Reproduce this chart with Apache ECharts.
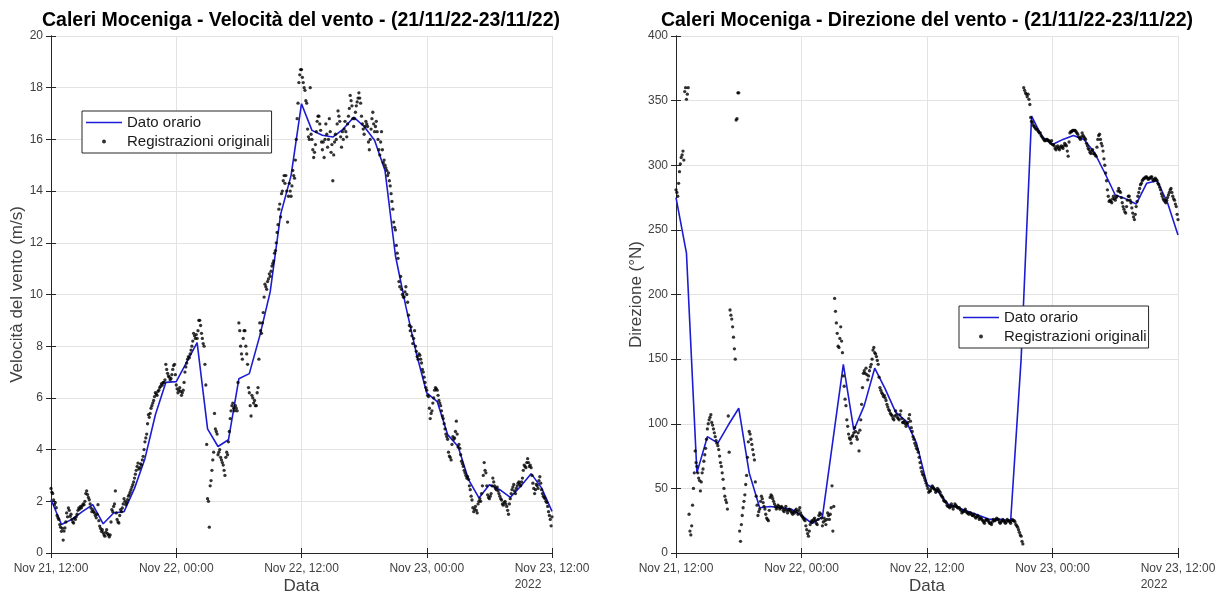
<!DOCTYPE html>
<html>
<head>
<meta charset="utf-8">
<title>Caleri Moceniga - vento</title>
<script src="https://cdn.jsdelivr.net/npm/echarts@6/dist/echarts.min.js"></script>
<style>
  html, body { margin: 0; padding: 0; background: #ffffff; overflow: hidden; }
  #chart { width: 1218px; height: 592px; }
</style>
</head>
<body>
<div id="chart"></div>
<script>
// Time axis: hours from Nov 21 2022, 12:00 to Nov 23 2022, 12:00
const xTickLabels = ['Nov 21, 12:00', 'Nov 22, 00:00', 'Nov 22, 12:00', 'Nov 23, 00:00', 'Nov 23, 12:00'];
const yearLabel = '2022';
const hoursSpan = 48;
const samplesPerHour = 12; // original records every 5 minutes

const titleSpeed = 'Caleri Moceniga - Velocità del vento - (21/11/22-23/11/22)';
const titleDir = 'Caleri Moceniga - Direzione del vento - (21/11/22-23/11/22)';
const nameHourly = 'Dato orario';
const nameRaw = 'Registrazioni originali';

// Hourly wind speed (m/s), one value per hour
const speedHourly = [2.07, 1.1, 1.3, 1.6, 1.87, 1.13, 1.55, 1.6, 2.5, 3.65, 5.35, 6.6, 6.63, 7.38, 8.14, 4.8,
  4.12, 4.38, 6.74, 6.94, 8.4, 10.1, 13.1, 14.6, 17.38, 16.35, 16.16, 16.09, 16.4, 16.86, 16.5, 15.97,
  14.8, 11.5, 9.53, 7.73, 6.19, 5.86, 4.58, 4.12, 2.84, 2.13, 2.64, 2.45, 2.15, 2.58, 3.07, 2.52, 1.61];

// 5-minute wind speed records (m/s), one row per hour
const speedRaw = [
  2.5, 2.35, 2.3, 2.05, 1.87, 1.95, 1.75, 1.45, 1.36, 1.3, 1.1, 1.0,
  0.84, 0.95, 0.5, 0.85, 0.97, 1.2, 1.55, 1.4, 1.74, 1.65, 1.42, 1.5,
  1.3, 1.2, 1.16, 1.35, 1.3, 1.4, 1.5, 1.65, 1.74, 1.7, 1.8, 1.75,
  1.83, 1.9, 1.87, 2.0, 2.3, 2.4, 2.26, 2.15, 2.06, 1.9, 1.74, 1.6,
  1.68, 1.6, 1.55, 1.45, 1.36, 1.5, 1.87, 1.25, 1.04, 0.95, 0.84, 0.9,
  0.78, 0.7, 0.65, 0.8, 0.9, 0.75, 0.7, 0.62, 0.7, 1.2, 1.68, 1.6,
  1.8, 1.9, 2.4, 1.55, 1.3, 1.2, 1.16, 1.45, 1.68, 1.6, 1.74, 1.9,
  2.1, 2.0, 1.87, 1.95, 2.06, 2.2, 2.26, 2.35, 2.45, 2.55, 2.64, 2.75,
  2.9, 3.05, 3.2, 3.35, 3.48, 3.25, 3.3, 3.45, 3.4, 3.6, 3.74, 4.0,
  4.3, 4.45, 4.6, 5.0, 5.35, 5.25, 5.4, 5.6, 5.7, 5.8, 5.9, 6.05,
  6.2, 6.15, 6.1, 6.25, 6.3, 6.4, 6.45, 6.55, 6.5, 6.6, 6.6, 6.7,
  7.3, 7.1, 6.95, 6.85, 6.8, 6.7, 6.75, 6.9, 7.1, 7.25, 7.3, 6.9,
  6.5, 6.35, 6.2, 6.3, 6.4, 6.25, 6.1, 6.2, 6.3, 6.6, 7.0, 7.2,
  7.35, 7.5, 7.6, 7.55, 7.7, 7.85, 8.0, 8.2, 8.5, 8.4, 8.3, 8.45,
  8.3, 8.6, 9.0, 9.0, 8.8, 8.5, 8.3, 8.1, 8.0, 7.3, 6.5, 4.2,
  2.1, 2.0, 1.0, 2.6, 2.8, 3.2, 3.6, 3.9, 5.4, 4.8, 4.7, 4.6,
  3.8, 3.9, 4.0, 3.7, 3.6, 3.5, 3.4, 3.2, 3.0, 3.7, 3.9, 3.8,
  4.3, 4.7, 5.2, 5.5, 5.7, 5.8, 5.6, 5.5, 5.7, 5.6, 5.5, 6.6,
  8.9, 8.6, 8.0, 7.7, 7.5, 8.3, 8.6, 8.6, 8.0, 7.7, 7.3, 6.4,
  6.2, 5.7, 5.3, 6.1, 6.0, 5.8, 5.9, 5.7, 5.7, 6.2, 6.4, 7.5,
  8.9, 8.6, 8.5, 8.9, 9.3, 9.9, 10.4, 10.3, 10.2, 10.5, 10.6, 10.8,
  10.7, 10.9, 11.1, 11.2, 11.3, 11.6, 11.7, 12.0, 12.4, 12.7, 13.3, 13.5,
  13.0, 13.9, 14.0, 14.4, 14.6, 14.3, 14.6, 14.0, 12.8, 13.8, 14.3, 14.0,
  13.8, 14.2, 14.8, 14.6, 14.5, 15.2, 16.0, 16.8, 17.4, 18.2, 18.5, 18.7,
  18.7, 18.4, 18.2, 18.0, 17.9, 17.5, 17.4, 16.4, 16.1, 16.0, 18.0, 16.2,
  16.0, 15.6, 15.3, 15.5, 15.8, 16.3, 16.7, 16.9, 16.9, 16.6, 16.35, 15.9,
  15.6, 15.9, 15.3, 16.0, 16.6, 16.2, 15.7, 16.0, 16.8, 16.3, 15.5, 15.8,
  14.4, 15.4, 15.9, 16.2, 16.0, 16.6, 17.1, 16.9, 16.7, 16.1, 15.7, 16.3,
  16.0, 16.4, 16.7, 16.3, 16.1, 16.6, 16.9, 17.2, 17.7, 17.5, 17.3, 16.8,
  16.5, 16.8, 17.05, 17.3, 17.45, 17.6, 17.8, 17.6, 17.4, 16.9, 16.6, 16.4,
  16.2, 16.5, 16.7, 16.6, 16.5, 15.9, 15.6, 16.0, 16.4, 16.8, 17.05, 16.6,
  16.3, 16.5, 16.7, 16.3, 16.0, 15.6, 15.4, 15.9, 16.3, 15.6, 15.1, 15.2,
  15.0, 14.9, 14.8, 14.6, 14.7, 14.4, 14.2, 13.9, 13.6, 13.3, 12.8, 12.6,
  12.5, 11.9, 11.6, 11.4, 10.5, 10.3, 10.7, 10.2, 10.0, 9.9, 9.9, 10.1,
  10.3, 10.0, 9.7, 9.2, 8.8, 8.6, 8.75, 8.4, 8.1, 8.3, 8.6, 8.0,
  7.8, 7.6, 7.5, 7.7, 7.65, 7.5, 7.35, 7.1, 7.0, 6.8, 6.6, 6.4,
  6.3, 6.1, 6.05, 5.6, 5.2, 5.4, 5.5, 5.8, 6.0, 6.3, 6.4, 6.35,
  6.3, 6.1, 5.9, 5.8, 5.7, 5.5, 5.3, 5.2, 5.0, 4.8, 4.6, 4.5,
  4.4, 3.9, 3.75, 3.7, 3.6, 4.2, 4.5, 4.4, 4.45, 4.7, 5.1, 4.6,
  4.1, 4.2, 4.05, 3.8, 3.55, 3.45, 3.35, 3.2, 3.1, 3.0, 2.9, 2.95,
  2.85, 2.6, 2.45, 2.2, 2.05, 1.75, 1.6, 1.7, 1.8, 1.65, 1.55, 1.9,
  2.0, 2.1, 2.0, 2.3, 2.6, 3.0, 3.5, 3.2, 3.1, 2.6, 2.25, 2.15,
  2.1, 2.2, 2.3, 2.6, 2.9, 2.75, 2.6, 2.5, 2.45, 2.55, 2.4, 2.3,
  2.2, 2.1, 2.05, 1.9, 1.85, 1.95, 2.0, 1.9, 1.8, 1.65, 1.5, 1.9,
  2.1, 2.3, 2.45, 2.55, 2.65, 2.4, 2.3, 2.5, 2.6, 2.7, 2.75, 2.65,
  2.6, 2.75, 2.9, 3.2, 3.4, 3.35, 3.3, 3.5, 3.65, 3.5, 3.35, 3.4,
  3.3, 3.0, 2.7, 2.5, 2.3, 2.45, 2.65, 2.6, 2.5, 2.8, 2.95, 2.7,
  2.45, 2.3, 2.2, 2.15, 2.1, 2.0, 1.95, 1.8, 1.6, 1.45, 1.3, 1.05,
  1.4
];

// Hourly wind direction (degrees from North)
const dirHourly = [275, 232, 62, 90, 85, 99, 112, 62, 35, 36, 35, 34, 29, 23, 28, 87, 146, 95, 114, 143,
  127, 109, 102, 85, 53, 48, 38, 35, 32, 29, 26, 26, 25, 150, 338, 322, 316, 320, 323, 320, 310, 294,
  277, 274, 270, 286, 288, 271, 246];

// 5-minute wind direction records (degrees from North), one row per hour
const dirRaw = [
  281, 279, 276, 286, 295, 301, 306, 308, 311, 304, 357, 360,
  351, 355, 360, 30, 17, 14, 21, 37, 50, 62, 79, 70,
  67, 62, 58, 56, 48, 55, 62, 65, 71, 76, 81, 88,
  96, 100, 103, 105, 107, 101, 99, 96, 93, 90, 87, 85,
  83, 80, 75, 70, 67, 62, 57, 50, 44, 41, 39, 34,
  106, 78, 188, 184, 181, 175, 167, 158, 150, 335, 336, 356,
  356, 17, 9, 22, 29, 35, 40, 45, 53, 60, 74, 86,
  94, 92, 88, 84, 80, 76, 72, 55, 44, 37, 29, 32,
  34, 40, 44, 42, 39, 36, 34, 30, 27, 26, 25, 33,
  43, 45, 44, 42, 40, 38, 36, 34, 35, 37, 36, 34,
  35, 36, 35, 33, 32, 34, 36, 33, 31, 33, 34, 33,
  32, 31, 30, 32, 31, 33, 34, 32, 30, 33, 35, 31,
  29, 28, 27, 26, 25, 21, 18, 15, 13, 17, 22, 24,
  25, 24, 26, 27, 25, 23, 22, 26, 29, 31, 30, 27,
  21, 24, 27, 25, 22, 26, 31, 29, 26, 30, 35, 52,
  17, 36, 197, 187, 178, 170, 160, 159, 166, 175, 164, 155,
  137, 129, 119, 114, 103, 98, 92, 89, 88, 85, 90, 91,
  93, 97, 94, 90, 88, 93, 79, 95, 103, 115, 128, 139,
  141, 139, 143, 138, 134, 137, 141, 144, 146, 150, 157, 159,
  155, 154, 152, 149, 146, 136, 128, 126, 124, 123, 121, 122,
  120, 118, 115, 113, 111, 110, 108, 107, 106, 104, 103, 106,
  110, 107, 105, 104, 103, 107, 110, 104, 101, 101, 102, 100,
  98, 100, 101, 104, 107, 102, 97, 94, 90, 88, 85, 83,
  81, 80, 78, 74, 70, 66, 63, 61, 60, 58, 56, 54,
  52, 50, 47, 48, 48, 50, 52, 51, 50, 49, 47, 48,
  50, 49, 48, 47, 45, 44, 43, 41, 40, 40, 39, 37,
  36, 36, 35, 36, 38, 36, 34, 36, 38, 37, 36, 35,
  35, 35, 34, 33, 31, 32, 32, 33, 34, 32, 31, 31,
  30, 31, 31, 30, 29, 29, 30, 28, 27, 28, 29, 28,
  26, 27, 27, 26, 25, 24, 23, 25, 26, 26, 25, 24,
  23, 23, 22, 24, 26, 25, 25, 26, 27, 26, 26, 24,
  23, 24, 25, 26, 25, 24, 23, 24, 26, 25, 25, 24,
  23, 25, 26, 25, 25, 24, 22, 21, 20, 18, 16, 14,
  13, 9, 7, 360, 358, 356, 355, 353, 355, 351, 347, 337,
  334, 333, 331, 330, 329, 328, 328, 327, 326, 325, 325, 323,
  322, 321, 320, 319, 319, 320, 320, 319, 319, 318, 317, 319,
  316, 316, 315, 313, 312, 314, 315, 313, 312, 314, 315, 314,
  313, 315, 317, 316, 315, 311, 307, 318, 325, 326, 326, 327,
  327, 327, 327, 326, 325, 324, 322, 321, 320, 322, 325, 323,
  322, 321, 320, 317, 315, 313, 312, 310, 309, 311, 312, 309,
  309, 308, 307, 314, 320, 323, 324, 320, 317, 315, 311, 305,
  300, 294, 288, 281, 276, 272, 273, 272, 271, 274, 276, 274,
  273, 275, 276, 280, 282, 280, 279, 275, 271, 268, 266, 264,
  263, 268, 273, 276, 276, 273, 271, 267, 263, 260, 258, 262,
  268, 272, 276, 279, 282, 285, 286, 288, 289, 290, 290, 291,
  291, 290, 289, 290, 290, 291, 291, 289, 288, 289, 290, 289,
  288, 286, 285, 283, 281, 278, 276, 274, 273, 272, 271, 273,
  275, 277, 279, 281, 282, 279, 276, 274, 273, 270, 268, 262,
  258
];

const FONT = '"Liberation Sans", Arial, Helvetica, sans-serif';
const AXIS_COLOR = '#262626';
const LABEL_COLOR = '#404040';
const GRID_COLOR = '#e3e3e3';
const LINE_COLOR = '#1c1cd4';

const hourlyPoints = arr => arr.map((v, h) => [h, v]);
const rawPoints = arr => arr.map((v, i) => [i / samplesPerHour, v]);

function xLabel(v) {
  const i = Math.round(v / 12);
  if (i === xTickLabels.length - 1) return '{t|' + xTickLabels[i] + '}\n{y|' + yearLabel + '}';
  return '{t|' + xTickLabels[i] + '}';
}

function xAxes(gridIndex) {
  const base = { gridIndex, type: 'value', min: 0, max: hoursSpan, interval: 12 };
  return [
    Object.assign({}, base, {
      position: 'bottom',
      name: 'Data', nameLocation: 'middle', nameGap: 25, nameMoveOverlap: false,
      nameTextStyle: { fontFamily: FONT, fontSize: 17, color: LABEL_COLOR },
      axisLine: { show: true, lineStyle: { color: AXIS_COLOR, width: 1 } },
      axisTick: { show: true, inside: true, length: 5, lineStyle: { color: AXIS_COLOR } },
      axisLabel: {
        show: true, margin: 8, formatter: xLabel, showMinLabel: true, showMaxLabel: true,
        hideOverlap: false,
        rich: {
          t: { fontFamily: FONT, fontSize: 12, color: LABEL_COLOR, lineHeight: 15 },
          y: { fontFamily: FONT, fontSize: 12, color: LABEL_COLOR, lineHeight: 17, align: 'left' }
        }
      },
      splitLine: { show: true, lineStyle: { color: GRID_COLOR, width: 1 } }
    }),
    Object.assign({}, base, {
      position: 'top',
      axisLine: { show: true, lineStyle: { color: AXIS_COLOR, width: 1 } },
      axisTick: { show: true, inside: true, length: 5, lineStyle: { color: AXIS_COLOR } },
      axisLabel: { show: false },
      splitLine: { show: false }
    })
  ];
}

function yAxes(gridIndex, max, interval, name, nameGap) {
  const base = { gridIndex, type: 'value', min: 0, max, interval };
  return [
    Object.assign({}, base, {
      position: 'left',
      name, nameLocation: 'middle', nameGap, nameRotate: 90, nameMoveOverlap: false,
      nameTextStyle: { fontFamily: FONT, fontSize: 17, color: LABEL_COLOR },
      axisLine: { show: true, lineStyle: { color: AXIS_COLOR, width: 1 } },
      axisTick: { show: true, inside: true, length: 5, lineStyle: { color: AXIS_COLOR } },
      axisLabel: { show: true, margin: 8, fontFamily: FONT, fontSize: 12, color: LABEL_COLOR },
      splitLine: { show: true, lineStyle: { color: GRID_COLOR, width: 1 } }
    }),
    Object.assign({}, base, {
      position: 'right',
      axisLine: { show: true, lineStyle: { color: AXIS_COLOR, width: 1 } },
      axisTick: { show: true, inside: true, length: 5, lineStyle: { color: AXIS_COLOR } },
      axisLabel: { show: false },
      splitLine: { show: false }
    })
  ];
}

// thin horizontal bar used as the legend sample of the hourly line
const lineIcon = 'path://M0,0L36,0L36,1.6L0,1.6Z';

function legendAt(left, top) {
  return {
    orient: 'vertical', left, top,
    data: [
      { name: nameHourly, icon: lineIcon, itemStyle: { color: LINE_COLOR } },
      { name: nameRaw, icon: 'circle' }
    ],
    itemWidth: 36, itemHeight: 4, itemGap: 2,
    padding: [3, 2, 3, 4],
    borderColor: AXIS_COLOR, borderWidth: 1, backgroundColor: '#ffffff',
    selectedMode: false,
    textStyle: { fontFamily: FONT, fontSize: 15, color: '#1a1a1a', lineHeight: 17 }
  };
}

function lineSeries(idx, data) {
  return {
    name: nameHourly, type: 'line', xAxisIndex: idx, yAxisIndex: idx,
    data: hourlyPoints(data), symbol: 'none', showSymbol: false,
    lineStyle: { color: LINE_COLOR, width: 1.6 }, itemStyle: { color: LINE_COLOR },
    animation: false, z: 2
  };
}

function rawSeries(idx, data) {
  return {
    name: nameRaw, type: 'scatter', xAxisIndex: idx, yAxisIndex: idx,
    data: rawPoints(data), symbol: 'circle', symbolSize: 3.3,
    itemStyle: { color: '#000000' }, animation: false, z: 3
  };
}

const chart = echarts.init(document.getElementById('chart'), null, { renderer: 'canvas' });

const titleStyle = { fontFamily: FONT, fontSize: 19.5, fontWeight: 'bold', color: '#000000' };
const gridBase = { top: 36, height: 517, containLabel: false, outerBoundsMode: 'none' };

chart.setOption({
  backgroundColor: '#ffffff',
  animation: false,
  title: [
    { text: titleSpeed, left: 301, top: 11, textAlign: 'center', padding: 0, textStyle: titleStyle },
    { text: titleDir, left: 927, top: 11, textAlign: 'center', padding: 0, textStyle: titleStyle }
  ],
  legend: [legendAt(82, 111), legendAt(959, 306)],
  grid: [
    Object.assign({ left: 51, width: 501 }, gridBase),
    Object.assign({ left: 676, width: 502 }, gridBase)
  ],
  xAxis: [...xAxes(0), ...xAxes(1)],
  yAxis: [
    ...yAxes(0, 20, 2, 'Velocità del vento (m/s)', 25),
    ...yAxes(1, 400, 50, 'Direzione (°N)', 31)
  ],
  series: [
    lineSeries(0, speedHourly),
    rawSeries(0, speedRaw),
    lineSeries(2, dirHourly),
    rawSeries(2, dirRaw)
  ]
});
</script>
</body>
</html>
